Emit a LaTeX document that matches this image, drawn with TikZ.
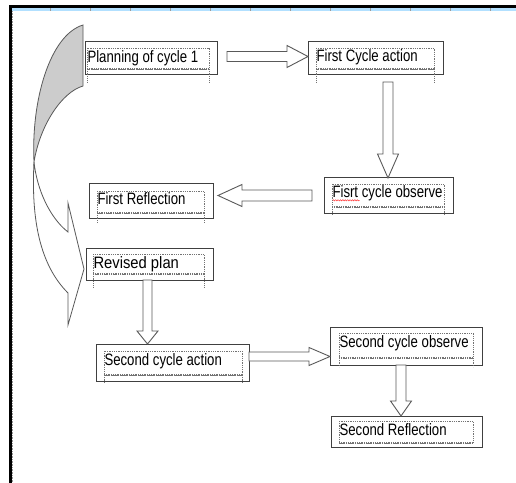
\documentclass[tikz,border=0pt]{standalone}
\usepackage{fontspec}
\setmainfont[FakeStretch=0.8]{Liberation Sans}
\usetikzlibrary{calc,decorations.pathmorphing}
\tikzset{
 obox/.style={draw=black!75, line width=1bp, fill=white, inner sep=0pt, outer sep=0pt, rectangle},
 ibox/.style={draw=black!55, line width=0.6bp, dash pattern=on 0.9bp off 0.9bp},
 lbl/.style={inner sep=0pt, outer sep=0pt, anchor=base west, font=\fontsize{16.5bp}{18bp}\selectfont},
 barrow/.style={draw=black!65, line width=0.9bp, fill=white, line join=miter},
 curv/.style={draw=black!65, line width=0.8bp},
}
% horizontal block arrow: tail, tip, shaft half, head half, head length, direction sign
\newcommand\hblock[6]{%
 \draw[barrow] let \p1=#1, \p2=#2 in
 (\x1,{\y1+#3}) -- ({\x2-(#6)*(#5)},{\y1+#3}) -- ({\x2-(#6)*(#5)},{\y1+#4}) -- (\x2,\y1)
 -- ({\x2-(#6)*(#5)},{\y1-#4}) -- ({\x2-(#6)*(#5)},{\y1-#3}) -- (\x1,{\y1-#3}) -- cycle;}
% downward block arrow
\newcommand\dblock[5]{%
 \draw[barrow] let \p1=#1, \p2=#2 in
 ({\x1+#3},\y1) -- ({\x1+#3},{\y2+#5}) -- ({\x1+#4},{\y2+#5}) -- (\x1,\y2)
 -- ({\x1-#4},{\y2+#5}) -- ({\x1-#3},{\y2+#5}) -- ({\x1-#3},\y1) -- cycle;}
\begin{document}
\begin{tikzpicture}[x=1bp,y=-1bp]
\useasboundingbox (0,0) rectangle (516,483);
\fill[white] (0,0) rectangle (516,483);
% page frame
\fill[black] (9,5) rectangle (516,8.4);
\fill[blue!40!cyan!30!white] (11,8.4) rectangle (516,11);
\foreach \x in {50,90,...,490} \draw[black!40, line width=0.8bp] (\x,8.4) -- (\x,11);
\fill[black] (9,5) rectangle (11.6,483);
\draw[black!40, line width=0.8bp, dash pattern=on 0.8bp off 0.8bp] (12.4,11) -- (12.4,483);
% curved arrow (back face)
\draw[curv, fill=black!20] (83,25) .. controls (50,35) and (31,100) .. (34,162)
  .. controls (40,125) and (62,92) .. (83,86) -- cycle;
% curved arrow (front face)
\draw[curv, fill=white] (34,162) .. controls (31,220) and (40,265) .. (68,293)
  -- (68,325) -- (84,269) -- (68,203) -- (68,232)
  .. controls (50,218) and (37,190) .. (34,162) -- cycle;
% boxes
\foreach \n/\a/\b/\c/\d/\e/\f/\g/\h/\ex/\bs/\sx/\t in {
 P/85/42/217/75/87/48/209/69/82/63/1/Planning of cycle 1,
 FCA/308/42/443/75/316/48/434/69/82/62/1/First Cycle action,
 FCO/324/178/453/213/332/184/444/207/216/198/1/Fisrt cycle observe,
 FR/89/184/213/218/97/191/204/213/223/205/1/First Reflection,
 RP/86/248/213/280/93/254/204/274/288/268/1.12/Revised plan,
 SCA/96/344/249/381/104/351/242/375/383/365/1/Second cycle action,
 SCO/330/327/482/365/339/333/473/358/367/347/1/Second cycle observe,
 SR/331/416/482/447/339/421/473/443/443/435/1/Second Reflection}
{
 \node[obox, minimum width={(\c-\a)*1bp}, minimum height={(\d-\b)*1bp}] (\n) at ({(\a+\c)/2},{(\b+\d)/2}) {};
 \draw[ibox] (\e,\f) rectangle (\g,\h);
 \draw[ibox, line width=1.2bp] (\e,\h) -- (\g,\h);
 \draw[ibox] (\e,\h) -- (\e,\ex) (\g,\h) -- (\g,\ex);
 \node[lbl] (t\n) at ({\e+0.5},\bs) {\scalebox{\sx}[1]{\t}};
}
% spell-check underline
\draw[red!80, line width=0.5bp, decorate, decoration={snake, amplitude=0.6bp, segment length=2.4bp}]
 ($(tFCO.base west)+(0,2.3)$) -- ++(27,0);
% block arrows
\hblock{($(P.east)+(10,-2)$)}{(FCA.west)}{5bp}{11bp}{21bp}{1}
\dblock{($(FCA.south)+(12.5,7)$)}{(FCO.north)}{5bp}{10.5bp}{24bp}
\hblock{($(FCO.west)+(-12,0)$)}{($(FR.east)+(5,0)$)}{5.5bp}{11bp}{24bp}{-1}
\dblock{($(RP.south)+(-2,0)$)}{(SCA.north)}{4.5bp}{10.5bp}{13bp}
\hblock{($(SCA.east)+(0,-6)$)}{(SCO.west)}{4.5bp}{9bp}{21bp}{1}
\dblock{($(SCO.south)+(-5,0)$)}{(SR.north)}{5bp}{10.5bp}{15bp}
\end{tikzpicture}
\end{document}
